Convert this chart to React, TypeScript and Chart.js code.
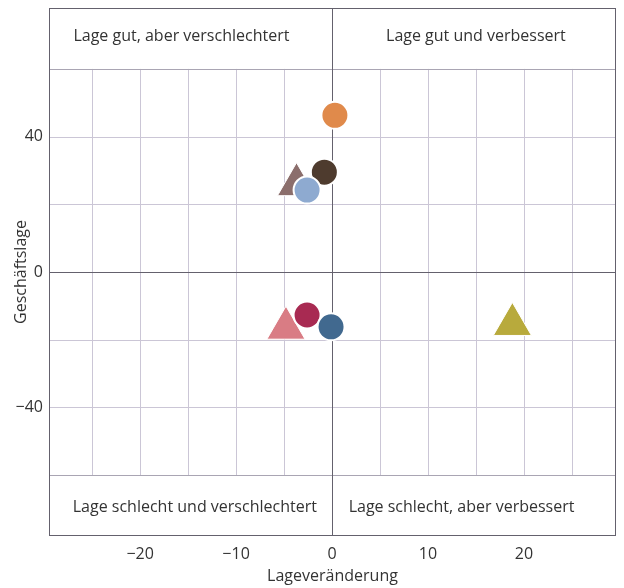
import React, { useEffect, useRef } from 'react';
import { Chart, registerables } from 'chart.js';

Chart.register(...registerables);

// Circles (drawn on top of triangles; later points on top)
const circleX = [0.3, -0.8, -2.6, -2.6, -0.1];
const circleY = [46.3, 29.5, -12.7, 24.2, -16.2];
const circleColors = ['#e08a4b', '#4e3b2e', '#a82a52', '#8eaad0', '#41698f'];

// Triangles
const triangleX = [-3.7, -4.8, 18.8];
const triangleY = [25.8, -16.6, -15.5];
const triangleColors = ['#8b6e6c', '#d97c84', '#b8aa3c'];

// Axes
const xTickLabels = [-20, -10, 0, 10, 20];
const yTickLabels = [-40, 0, 40];
const xGridLines = [-25, -20, -15, -10, -5, 5, 10, 15, 20, 25];
const yGridLines = [-40, -20, 20, 40];
const bandLimit = 60;

const quadrantLabels = [
  'Lage gut, aber verschlechtert',
  'Lage gut und verbessert',
  'Lage schlecht und verschlechtert',
  'Lage schlecht, aber verbessert',
];
const quadrantLabelX = [-15.7, 15.0, -14.3, 13.5];
const quadrantLabelY = [69.5, 69.5, -69.5, -69.5];

const FONT = '"Open Sans", "Noto Sans", sans-serif';
const TEXT = '#333333';
const GRID = '#cbc6d6';
const DARK = '#64616d';

const backgroundPlugin = {
  id: 'quadrants',
  beforeDatasetsDraw(chart: any) {
    const { ctx, chartArea, scales } = chart;
    const xs = scales.x;
    const ys = scales.y;
    const { left, right, top, bottom } = chartArea;
    ctx.save();
    ctx.lineWidth = 1;
    ctx.strokeStyle = GRID;
    const yTopBand = ys.getPixelForValue(bandLimit);
    const yBotBand = ys.getPixelForValue(-bandLimit);
    xGridLines.forEach((v) => {
      const px = Math.round(xs.getPixelForValue(v)) + 0.5;
      ctx.beginPath();
      ctx.moveTo(px, yTopBand);
      ctx.lineTo(px, yBotBand);
      ctx.stroke();
    });
    yGridLines.forEach((v) => {
      const py = Math.round(ys.getPixelForValue(v)) + 0.5;
      ctx.beginPath();
      ctx.moveTo(left, py);
      ctx.lineTo(right, py);
      ctx.stroke();
    });
    ctx.strokeStyle = '#a9a5b3';
    [bandLimit, -bandLimit].forEach((v) => {
      const py = Math.round(ys.getPixelForValue(v)) + 0.5;
      ctx.beginPath();
      ctx.moveTo(left, py);
      ctx.lineTo(right, py);
      ctx.stroke();
    });
    ctx.strokeStyle = DARK;
    const x0 = Math.round(xs.getPixelForValue(0)) + 0.5;
    ctx.beginPath();
    ctx.moveTo(x0, top);
    ctx.lineTo(x0, bottom);
    ctx.stroke();
    const y0 = Math.round(ys.getPixelForValue(0)) + 0.5;
    ctx.beginPath();
    ctx.moveTo(left, y0);
    ctx.lineTo(right, y0);
    ctx.stroke();
    ctx.strokeRect(Math.round(left) + 0.5, Math.round(top) + 0.5, Math.round(right - left) - 1, Math.round(bottom - top) - 1);
    ctx.fillStyle = TEXT;
    ctx.font = `16px ${FONT}`;
    ctx.textAlign = 'center';
    ctx.textBaseline = 'middle';
    quadrantLabels.forEach((t, i) => {
      ctx.fillText(t, xs.getPixelForValue(quadrantLabelX[i]), ys.getPixelForValue(quadrantLabelY[i]));
    });
    ctx.restore();
  },
};

const fmt = (v: any) => (Number(v) < 0 ? '\u2212' + Math.abs(Number(v)) : String(v));

const zeroPad = (s: any) => {
  s.paddingTop = 0;
  s.paddingBottom = 0;
  s.paddingLeft = 0;
  s.paddingRight = 0;
};

export default function App() {
  const ref = useRef<HTMLCanvasElement | null>(null);
  useEffect(() => {
    if (!ref.current) return;
    const chart = new Chart(ref.current, {
      type: 'scatter',
      data: {
        datasets: [
          {
            label: 'Kreise',
            data: circleX.map((x, i) => ({ x, y: circleY[i] })),
            pointStyle: 'circle',
            pointRadius: 13.5,
            backgroundColor: circleColors,
            borderColor: '#ffffff',
            borderWidth: 2,
          },
          {
            label: 'Dreiecke',
            data: triangleX.map((x, i) => ({ x, y: triangleY[i] })),
            pointStyle: 'triangle',
            pointRadius: 22,
            backgroundColor: triangleColors,
            borderColor: '#ffffff',
            borderWidth: 1,
          },
        ],
      },
      options: {
        animation: false,
        responsive: true,
        maintainAspectRatio: false,
        layout: { autoPadding: false, padding: { top: 8, right: 8, left: 0, bottom: 0 } },
        plugins: { legend: { display: false }, tooltip: { enabled: false } },
        scales: {
          x: {
            type: 'linear',
            min: -29.5,
            max: 29.6,
            grid: { display: false },
            border: { display: false },
            afterBuildTicks: (s: any) => {
              s.ticks = xTickLabels.map((value) => ({ value }));
            },
            afterFit: (s: any) => {
              s.height = 52;
              zeroPad(s);
            },
            ticks: {
              padding: 1,
              color: TEXT,
              font: { family: FONT, size: 16 },
              maxRotation: 0,
              callback: fmt,
            },
            title: {
              display: true,
              text: 'Lageveränderung',
              color: TEXT,
              font: { family: FONT, size: 16 },
              padding: { top: 0, bottom: 2 },
            },
          },
          y: {
            type: 'linear',
            min: -78,
            max: 78,
            grid: { display: false, drawTicks: false },
            border: { display: false },
            afterBuildTicks: (s: any) => {
              s.ticks = yTickLabels.map((value) => ({ value }));
            },
            afterFit: (s: any) => {
              s.width = 49;
              zeroPad(s);
            },
            ticks: {
              padding: 6,
              color: TEXT,
              font: { family: FONT, size: 16 },
              callback: fmt,
            },
            title: {
              display: true,
              text: 'Geschäftslage',
              color: TEXT,
              font: { family: FONT, size: 16 },
              padding: { top: 12, bottom: 0 },
            },
          },
        },
      },
      plugins: [backgroundPlugin],
    });
    return () => chart.destroy();
  }, []);
  return (
    <div style={{ position: 'absolute', left: 0, top: 0, width: 624, height: 588, background: '#ffffff' }}>
      <canvas ref={ref} />
    </div>
  );
}
